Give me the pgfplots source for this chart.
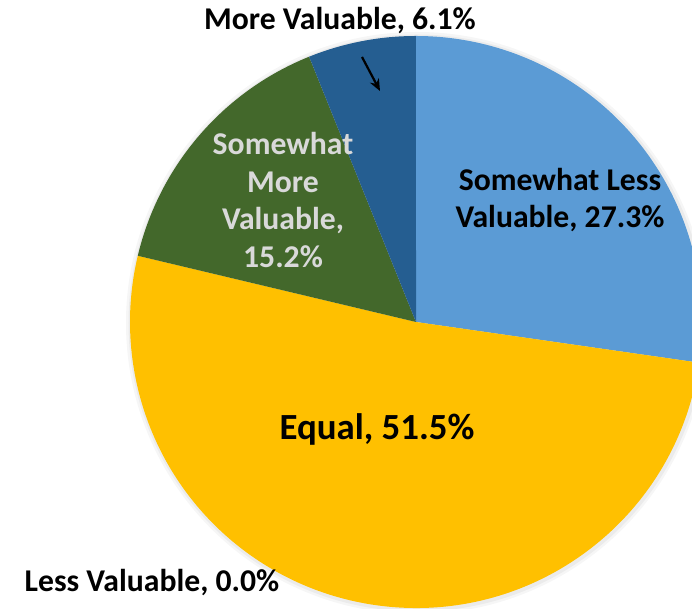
\documentclass[border=0pt]{standalone}
\usepackage{fontspec}
\setmainfont{Carlito}
\usepackage{pgfplots}
\usepackage{pgfplotstable}
\pgfplotsset{compat=1.18}
\usetikzlibrary{arrows.meta}

\definecolor{lessval}{HTML}{A5A5A5}
\definecolor{somless}{HTML}{5B9BD5}
\definecolor{equal}{HTML}{FFC000}
\definecolor{sommore}{HTML}{43682B}
\definecolor{moreval}{HTML}{255E91}
\definecolor{lighttext}{HTML}{D9D9D9}

\tikzset{lbl/.style={font=\fontsize{31.8}{37.5}\selectfont\bfseries, align=center, inner sep=0pt}}

% slices clockwise from 12 o'clock
\pgfplotstableread[col sep=comma]{
label,value,colour
Less Valuable,0.0,lessval
Somewhat Less Valuable,27.3,somless
Equal,51.5,equal
Somewhat More Valuable,15.2,sommore
More Valuable,6.1,moreval
}\piedata
\def\pietotal{100.1}

\begin{document}
\begin{tikzpicture}
\begin{axis}[
    x=1bp, y=1bp,
    xmin=0, xmax=692, ymin=0, ymax=609,
    hide axis,
    clip=true,
]
\begin{scope}
\clip (axis cs:0,0) rectangle (axis cs:692,609);
% soft shadow round the pie
\fill[black, opacity=0.035] (axis cs:417,286) circle[radius=291bp];
\fill[black, opacity=0.045] (axis cs:417,286) circle[radius=288.5bp];

\xdef\pieangle{90}
\pgfplotstableforeachcolumnelement{value}\of\piedata\as\pieval{%
  \pgfplotstablegetelem{\pgfplotstablerow}{colour}\of\piedata
  \let\piecol\pgfplotsretval
  \pgfmathsetmacro\pieend{\pieangle-\pieval/\pietotal*360}
  \edef\temp{\noexpand\fill[\piecol] (axis cs:416,287) -- ++(\pieangle:286bp)
    arc[start angle=\pieangle, end angle=\pieend, radius=286bp] -- cycle;}
  \temp
  \xdef\pieangle{\pieend}
}
\end{scope}

\node[lbl] at (axis cs:340,588) {More Valuable, 6.1\%};
\draw[-{Stealth[length=12bp,width=10bp]}, line width=2.2bp]
  (axis cs:362,552) -- (axis cs:380,518);
\node[lbl] at (axis cs:560,409) {Somewhat Less\\Valuable, 27.3\%};
\node[lbl, text=lighttext] at (axis cs:283,409) {Somewhat\\More\\Valuable,\\15.2\%};
\node[lbl, font=\fontsize{37}{44}\selectfont\bfseries] at (axis cs:377,180) {Equal, 51.5\%};
\node[lbl] at (axis cs:152,26) {Less Valuable, 0.0\%};
\end{axis}
\pgfresetboundingbox
\useasboundingbox (current axis.south west) rectangle (current axis.north east);
\end{tikzpicture}
\end{document}
